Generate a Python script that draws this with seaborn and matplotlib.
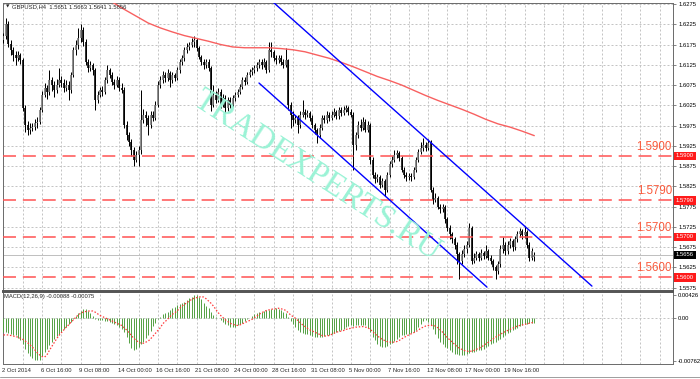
import numpy as np
import matplotlib
matplotlib.use("Agg")
import matplotlib.pyplot as plt
import matplotlib.transforms as mtransforms
import seaborn as sns

sns.set_style("white")
plt.rcParams['font.family'] = ['Liberation Sans', 'DejaVu Sans']

# ---------------- data ----------------
closes = [
    1.6196, 1.6226, 1.6177, 1.6162, 1.6149, 1.6142, 1.6149, 1.6137, 1.6019, 1.5977,
    1.5965, 1.5970, 1.5972, 1.5980, 1.5984, 1.6014, 1.6051, 1.6068, 1.6058, 1.6088,
    1.6076, 1.6063, 1.6076, 1.6088, 1.6081, 1.6068, 1.6076, 1.6063, 1.6100, 1.6162,
    1.6174, 1.6191, 1.6211, 1.6182, 1.6132, 1.6117, 1.6125, 1.6112, 1.6039, 1.6051,
    1.6063, 1.6058, 1.6088, 1.6112, 1.6100, 1.6083, 1.6076, 1.6088, 1.6068, 1.6063,
    1.5977, 1.5952, 1.5935, 1.5915, 1.5891, 1.5903, 1.5915, 1.5989, 1.6002, 1.5994,
    1.5977, 1.6002, 1.5994, 1.6026, 1.6076, 1.6088, 1.6100, 1.6093, 1.6105, 1.6088,
    1.6100, 1.6093, 1.6112, 1.6132, 1.6142, 1.6162, 1.6169, 1.6174, 1.6182, 1.6186,
    1.6167, 1.6144, 1.6132, 1.6125, 1.6132, 1.6117, 1.6026, 1.6051, 1.6039, 1.6058,
    1.6026, 1.6043, 1.6019, 1.6039, 1.6026, 1.6043, 1.6051, 1.6058, 1.6071, 1.6088,
    1.6083, 1.6100, 1.6107, 1.6112, 1.6117, 1.6125, 1.6132, 1.6125, 1.6132, 1.6112,
    1.6162, 1.6157, 1.6142, 1.6137, 1.6142, 1.6132, 1.6125, 1.6137, 1.6026, 1.6002,
    1.5989, 1.5994, 1.5977, 1.6002, 1.6009, 1.6002, 1.6007, 1.5994, 1.5977, 1.5965,
    1.5952, 1.5970, 1.5994, 1.5989, 1.6002, 1.5994, 1.6002, 1.6009, 1.5999, 1.6014,
    1.6007, 1.6014, 1.6019, 1.6009, 1.6002, 1.5928, 1.5952, 1.5977, 1.5970, 1.5984,
    1.5965, 1.5977, 1.5891, 1.5854, 1.5842, 1.5847, 1.5829, 1.5837, 1.5817, 1.5854,
    1.5879, 1.5891, 1.5903, 1.5908, 1.5896, 1.5866, 1.5854, 1.5847, 1.5851, 1.5847,
    1.5866, 1.5891, 1.5910, 1.5920, 1.5928, 1.5920, 1.5933, 1.5817, 1.5792, 1.5797,
    1.5775, 1.5768, 1.5773, 1.5743, 1.5723, 1.5706, 1.5694, 1.5681, 1.5657, 1.5640,
    1.5657, 1.5669, 1.5681, 1.5723, 1.5640, 1.5649, 1.5657, 1.5649, 1.5659, 1.5652,
    1.5664, 1.5649, 1.5640, 1.5625, 1.5615, 1.5632, 1.5669, 1.5681, 1.5664, 1.5681,
    1.5689, 1.5674, 1.5694, 1.5706, 1.5714, 1.5704, 1.5711, 1.5681, 1.5649, 1.5664,
    1.5656]
opens = [1.6186] + closes[:-2] + [1.5651]
highs = [
    1.6203, 1.6240, 1.6232, 1.6185, 1.6170, 1.6158, 1.6160, 1.6155, 1.6142, 1.6025,
    1.5985, 1.5980, 1.5982, 1.5990, 1.5995, 1.6020, 1.6060, 1.6080, 1.6075, 1.6112,
    1.6095, 1.6085, 1.6090, 1.6117, 1.6098, 1.6090, 1.6088, 1.6085, 1.6108, 1.6170,
    1.6186, 1.6216, 1.6226, 1.6218, 1.6188, 1.6140, 1.6135, 1.6130, 1.6118, 1.6060,
    1.6070, 1.6072, 1.6095, 1.6125, 1.6118, 1.6108, 1.6090, 1.6098, 1.6095, 1.6080,
    1.6070, 1.5985, 1.5960, 1.5942, 1.5922, 1.5912, 1.5925, 1.6063, 1.6015, 1.6010,
    1.6000, 1.6012, 1.6010, 1.6035, 1.6085, 1.6098, 1.6110, 1.6108, 1.6115, 1.6110,
    1.6108, 1.6105, 1.6120, 1.6140, 1.6150, 1.6170, 1.6178, 1.6182, 1.6191, 1.6196,
    1.6192, 1.6172, 1.6150, 1.6140, 1.6140, 1.6138, 1.6122, 1.6076, 1.6060, 1.6068,
    1.6065, 1.6052, 1.6050, 1.6045, 1.6046, 1.6050, 1.6058, 1.6066, 1.6078, 1.6095,
    1.6095, 1.6108, 1.6115, 1.6120, 1.6125, 1.6132, 1.6140, 1.6138, 1.6142, 1.6137,
    1.6182, 1.6182, 1.6162, 1.6150, 1.6150, 1.6148, 1.6140, 1.6167, 1.6140, 1.6032,
    1.6010, 1.6002, 1.6000, 1.6010, 1.6039, 1.6015, 1.6014, 1.6012, 1.6000, 1.5982,
    1.5970, 1.5978, 1.6002, 1.6000, 1.6010, 1.6008, 1.6012, 1.6018, 1.6014, 1.6020,
    1.6020, 1.6022, 1.6026, 1.6024, 1.6015, 1.6008, 1.5960, 1.5985, 1.5992, 1.5995,
    1.5990, 1.5985, 1.5982, 1.5898, 1.5860, 1.5855, 1.5852, 1.5845, 1.5842, 1.5860,
    1.5888, 1.5900, 1.5915, 1.5915, 1.5912, 1.5900, 1.5872, 1.5860, 1.5858, 1.5858,
    1.5872, 1.5898, 1.5918, 1.5935, 1.5945, 1.5935, 1.5942, 1.5938, 1.5822, 1.5808,
    1.5802, 1.5782, 1.5780, 1.5778, 1.5750, 1.5730, 1.5712, 1.5700, 1.5688, 1.5662,
    1.5668, 1.5680, 1.5690, 1.5735, 1.5728, 1.5660, 1.5665, 1.5662, 1.5670, 1.5665,
    1.5681, 1.5670, 1.5655, 1.5645, 1.5630, 1.5640, 1.5680, 1.5700, 1.5688, 1.5690,
    1.5698, 1.5695, 1.5702, 1.5715, 1.5722, 1.5720, 1.5728, 1.5718, 1.5688, 1.5672,
    1.5663]
lows = [
    1.6178, 1.6188, 1.6170, 1.6150, 1.6135, 1.6125, 1.6135, 1.6128, 1.6012, 1.5960,
    1.5952, 1.5955, 1.5962, 1.5965, 1.5970, 1.5978, 1.6008, 1.6045, 1.6040, 1.6050,
    1.6060, 1.6045, 1.6055, 1.6070, 1.6070, 1.6058, 1.6060, 1.6039, 1.6055, 1.6095,
    1.6150, 1.6165, 1.6180, 1.6172, 1.6125, 1.6108, 1.6110, 1.6100, 1.6014, 1.6030,
    1.6045, 1.6048, 1.6052, 1.6080, 1.6092, 1.6075, 1.6065, 1.6070, 1.6060, 1.6055,
    1.5970, 1.5940, 1.5925, 1.5900, 1.5876, 1.5885, 1.5876, 1.5905, 1.5980, 1.5975,
    1.5952, 1.5970, 1.5985, 1.5988, 1.6020, 1.6068, 1.6080, 1.6082, 1.6085, 1.6071,
    1.6080, 1.6085, 1.6088, 1.6105, 1.6125, 1.6135, 1.6155, 1.6162, 1.6168, 1.6170,
    1.6160, 1.6138, 1.6125, 1.6115, 1.6118, 1.6110, 1.6010, 1.6020, 1.6030, 1.6032,
    1.6018, 1.6020, 1.6007, 1.6012, 1.6018, 1.6020, 1.6035, 1.6045, 1.6052, 1.6065,
    1.6075, 1.6078, 1.6095, 1.6100, 1.6105, 1.6110, 1.6118, 1.6115, 1.6120, 1.6105,
    1.6108, 1.6145, 1.6135, 1.6128, 1.6130, 1.6125, 1.6118, 1.6120, 1.6014, 1.5970,
    1.5975, 1.5980, 1.5957, 1.5970, 1.5995, 1.5992, 1.5995, 1.5985, 1.5968, 1.5955,
    1.5933, 1.5945, 1.5965, 1.5980, 1.5982, 1.5985, 1.5988, 1.5995, 1.5990, 1.5992,
    1.5998, 1.6000, 1.6008, 1.6000, 1.5995, 1.5866, 1.5915, 1.5945, 1.5962, 1.5965,
    1.5958, 1.5960, 1.5880, 1.5845, 1.5832, 1.5835, 1.5820, 1.5822, 1.5800, 1.5812,
    1.5848, 1.5872, 1.5885, 1.5895, 1.5888, 1.5860, 1.5845, 1.5838, 1.5840, 1.5838,
    1.5842, 1.5860, 1.5885, 1.5905, 1.5912, 1.5912, 1.5915, 1.5810, 1.5780, 1.5785,
    1.5768, 1.5760, 1.5762, 1.5735, 1.5715, 1.5695, 1.5685, 1.5670, 1.5632, 1.5595,
    1.5632, 1.5650, 1.5660, 1.5675, 1.5632, 1.5635, 1.5642, 1.5640, 1.5644, 1.5645,
    1.5648, 1.5642, 1.5632, 1.5618, 1.5595, 1.5608, 1.5625, 1.5660, 1.5655, 1.5658,
    1.5672, 1.5665, 1.5668, 1.5688, 1.5700, 1.5695, 1.5698, 1.5672, 1.5640, 1.5642,
    1.5641]

macd_hist = [
    -0.0024, -0.0025, -0.0027, -0.0028, -0.0030, -0.0031, -0.0035, -0.0040, -0.0047, -0.0056,
    -0.0062, -0.0068, -0.0072, -0.0075, -0.0076, -0.0075, -0.0068, -0.0061, -0.0055, -0.0049,
    -0.0043, -0.0038, -0.0032, -0.0028, -0.0024, -0.0020, -0.0015, -0.0010, -0.0006, -0.0002,
    0.0004, 0.0009, 0.0013, 0.0016, 0.0016, 0.0013, 0.0009, 0.0004, -0.0001, -0.0003,
    -0.0003, -0.0004, -0.0005, -0.0005, -0.0006, -0.0008, -0.0010, -0.0013, -0.0016, -0.0019,
    -0.0025, -0.0033, -0.0045, -0.0054, -0.0058, -0.0056, -0.0052, -0.0047, -0.0042, -0.0036,
    -0.0030, -0.0023, -0.0014, -0.0008, -0.0002, 0.0003, 0.0007, 0.0009, 0.0012, 0.0015,
    0.0018, 0.0021, 0.0023, 0.0025, 0.0028, 0.0030, 0.0033, 0.0036, 0.0039, 0.0041,
    0.0041, 0.0039, 0.0034, 0.0028, 0.0022, 0.0018, 0.0011, 0.0006, 0.0003, 0.0000,
    -0.0004, -0.0007, -0.0011, -0.0013, -0.0015, -0.0015, -0.0015, -0.0013, -0.0011, -0.0008,
    -0.0005, -0.0002, 0.0001, 0.0004, 0.0007, 0.0009, 0.0011, 0.0012, 0.0013, 0.0014,
    0.0015, 0.0016, 0.0017, 0.0018, 0.0017, 0.0015, 0.0012, 0.0009, 0.0002, -0.0005,
    -0.0011, -0.0016, -0.0021, -0.0024, -0.0026, -0.0028, -0.0029, -0.0031, -0.0032, -0.0033,
    -0.0034, -0.0034, -0.0033, -0.0032, -0.0031, -0.0030, -0.0029, -0.0027, -0.0025, -0.0023,
    -0.0021, -0.0019, -0.0016, -0.0014, -0.0012, -0.0014, -0.0013, -0.0012, -0.0012, -0.0012,
    -0.0013, -0.0018, -0.0025, -0.0033, -0.0040, -0.0046, -0.0050, -0.0052, -0.0052, -0.0050,
    -0.0047, -0.0044, -0.0041, -0.0037, -0.0034, -0.0031, -0.0030, -0.0029, -0.0028, -0.0027,
    -0.0025, -0.0022, -0.0016, -0.0010, -0.0005, -0.0004, -0.0006, -0.0012, -0.0020, -0.0028,
    -0.0035, -0.0042, -0.0046, -0.0051, -0.0054, -0.0058, -0.0061, -0.0064, -0.0065, -0.0066,
    -0.0067, -0.0066, -0.0064, -0.0062, -0.0061, -0.0060, -0.0059, -0.0058, -0.0057, -0.0055,
    -0.0052, -0.0050, -0.0047, -0.0045, -0.0043, -0.0040, -0.0037, -0.0033, -0.0030, -0.0027,
    -0.0024, -0.0022, -0.0019, -0.0017, -0.0014, -0.0012, -0.0011, -0.0010, -0.0009, -0.0009,
    -0.00088]
macd_signal = [
    -0.0030, -0.0030, -0.0030, -0.0031, -0.0032, -0.0033, -0.0034, -0.0036, -0.0038, -0.0041,
    -0.0044, -0.0048, -0.0052, -0.0057, -0.0062, -0.0066, -0.0069, -0.0070, -0.0066, -0.0058,
    -0.0051, -0.0044, -0.0037, -0.0031, -0.0026, -0.0021, -0.0016, -0.0012, -0.0007, -0.0003,
    0.0002, 0.0006, 0.0009, 0.0011, 0.0012, 0.0013, 0.0013, 0.0013, 0.0011, 0.0008,
    0.0005, 0.0003, 0.0001, -0.0001, -0.0003, -0.0005, -0.0007, -0.0009, -0.0011, -0.0013,
    -0.0017, -0.0021, -0.0026, -0.0031, -0.0036, -0.0040, -0.0043, -0.0045, -0.0045, -0.0043,
    -0.0041, -0.0037, -0.0032, -0.0027, -0.0022, -0.0017, -0.0010, -0.0006, -0.0002, 0.0003,
    0.0007, 0.0010, 0.0013, 0.0018, 0.0022, 0.0025, 0.0028, 0.0031, 0.0034, 0.0036,
    0.0037, 0.0038, 0.0039, 0.0038, 0.0035, 0.0031, 0.0027, 0.0022, 0.0016, 0.0010,
    0.0005, 0.0001, -0.0003, -0.0006, -0.0009, -0.0011, -0.0012, -0.0013, -0.0012, -0.0010,
    -0.0008, -0.0006, -0.0004, -0.0002, 0.0001, 0.0004, 0.0007, 0.0010, 0.0012, 0.0014,
    0.0015, 0.0016, 0.0017, 0.0017, 0.0018, 0.0017, 0.0016, 0.0014, 0.0010, 0.0006,
    0.0003, 0.0000, -0.0004, -0.0008, -0.0012, -0.0015, -0.0018, -0.0021, -0.0023, -0.0025,
    -0.0027, -0.0029, -0.0031, -0.0032, -0.0032, -0.0031, -0.0029, -0.0027, -0.0025, -0.0024,
    -0.0023, -0.0022, -0.0020, -0.0019, -0.0018, -0.0017, -0.0016, -0.0016, -0.0015, -0.0015,
    -0.0016, -0.0017, -0.0020, -0.0024, -0.0028, -0.0032, -0.0035, -0.0038, -0.0040, -0.0042,
    -0.0043, -0.0043, -0.0043, -0.0042, -0.0040, -0.0037, -0.0035, -0.0032, -0.0030, -0.0028,
    -0.0026, -0.0024, -0.0021, -0.0018, -0.0016, -0.0014, -0.0013, -0.0013, -0.0013, -0.0014,
    -0.0017, -0.0021, -0.0025, -0.0030, -0.0035, -0.0039, -0.0043, -0.0047, -0.0051, -0.0054,
    -0.0056, -0.0058, -0.0059, -0.0060, -0.0059, -0.0058, -0.0056, -0.0054, -0.0052, -0.0049,
    -0.0046, -0.0043, -0.0040, -0.0037, -0.0034, -0.0031, -0.0029, -0.0026, -0.0024, -0.0022,
    -0.0020, -0.0018, -0.0016, -0.0014, -0.0013, -0.0012, -0.0011, -0.0010, -0.0009, -0.0008,
    -0.00075]

ma_bar = [0, 10, 20, 30, 40, 45, 50, 55, 60, 65, 70, 75, 80, 85, 90, 95, 100, 105, 110,
          115, 120, 125, 130, 135, 140, 145, 150, 155, 160, 165, 170, 175, 180, 185, 190,
          195, 200, 205, 210, 215, 220]
ma_val = [1.6340, 1.6325, 1.6310, 1.6297, 1.6287, 1.6280, 1.6262, 1.6245, 1.6228, 1.6216,
          1.6206, 1.6197, 1.6190, 1.6183, 1.6175, 1.6169, 1.6167, 1.6167, 1.6167, 1.6165,
          1.6162, 1.6157, 1.6149, 1.6141, 1.6131, 1.6120, 1.6108, 1.6096, 1.6086, 1.6075,
          1.6062, 1.6049, 1.6037, 1.6026, 1.6015, 1.6003, 1.5990, 1.5979, 1.5971, 1.5961,
          1.5950]

chan_upper_bar = [111.7, 243.9]
chan_upper_val = [1.62799, 1.55785]
chan_lower_bar = [105.9, 200.4]
chan_lower_val = [1.60799, 1.55760]

levels = [1.5900, 1.5790, 1.5700, 1.5600]
level_labels = ["1.5900", "1.5790", "1.5700", "1.5600"]
current_price = 1.5656

price_ticks = [1.6275, 1.6225, 1.6175, 1.6125, 1.6075, 1.6025, 1.5975, 1.5925,
               1.5875, 1.5825, 1.5775, 1.5725, 1.5675, 1.5625, 1.5575]
price_tick_labels = ["1.6275", "1.6225", "1.6175", "1.6125", "1.6075", "1.6025", "1.5975",
                     "1.5925", "1.5875", "1.5825", "1.5775", "1.5725", "1.5675", "1.5625",
                     "1.5575"]
macd_ticks = [0.00426, 0.0, -0.00762]
macd_tick_labels = ["0.00426", "0.00", "-0.00762"]

time_label_bars = [0, 16, 32, 48, 64, 80, 96, 112, 128, 144, 160, 176, 192, 208]
time_labels = ["2 Oct 2014", "6 Oct 16:00", "9 Oct 08:00", "14 Oct 00:00", "16 Oct 16:00",
               "21 Oct 08:00", "24 Oct 00:00", "28 Oct 16:00", "31 Oct 08:00",
               "5 Nov 00:00", "7 Nov 16:00", "12 Nov 08:00", "17 Nov 00:00", "19 Nov 16:00"]

title_text = "GBPUSD,H4  1.5651 1.5663 1.5641 1.5656"
macd_text = "MACD(12,26,9) -0.00088 -0.00075"
watermark = "TRADEXPERTS.RU"

# ---------------- figure ----------------
W, H = 700, 379
fig = plt.figure(figsize=(7.0, 3.79), dpi=100)
fig.patch.set_facecolor("white")


def fx(px):
    return px / W


def fy(py):
    return 1 - py / H


L_PX, R_PX = 2.5, 673.0
ax = fig.add_axes([fx(L_PX), fy(291), fx(R_PX) - fx(L_PX), fy(3) - fy(291)])
axm = fig.add_axes([fx(L_PX), fy(364), fx(R_PX) - fx(L_PX), fy(292) - fy(364)])

XLIM = (-0.41, 277.5)
PX = 0.72  # one pixel in points

n = len(closes)
idx = np.arange(n)
o = np.array(opens)
c = np.array(closes)
h = np.array(highs)
l = np.array(lows)

grid_kw = dict(color="#c4c4c4", lw=PX, linestyle=(0, (2, 2)), zorder=0.5)
grid_bars = np.arange(0, 280, 8)

for a in (ax, axm):
    a.set_xlim(*XLIM)
    a.set_facecolor("white")
    for g in grid_bars:
        a.axvline(g, **grid_kw)
    for s in a.spines.values():
        s.set_color("#6e6e6e")
        s.set_linewidth(PX)
        s.set_visible(True)
    a.yaxis.tick_right()
    a.tick_params(axis="y", which="both", direction="out", length=2.5, width=0.5,
                  color="#555555", labelsize=4.2, pad=1.2, labelcolor="black")

# ---- main price panel
ax.set_ylim(1.55664, 1.62775)
for t in price_ticks:
    ax.axhline(t, **grid_kw)

# watermark
fig.text(fx(317), fy(176), watermark, rotation=-33, rotation_mode="anchor",
         ha="center", va="center", fontsize=24, color="#9bf3d6",
         family=["Liberation Serif", "DejaVu Serif"], zorder=1)

# current price line
ax.axhline(current_price, color="#c0c0c0", lw=PX, zorder=1.5)

# candles
bull = c >= o
ax.vlines(idx, l, h, color="black", lw=PX, zorder=3)
body_lo = np.minimum(o, c)
body_hi = np.maximum(o, c)
ax.vlines(idx[bull], body_lo[bull], body_hi[bull], color="#767676", lw=1.6 * PX, zorder=3.1)
ax.vlines(idx[~bull], body_lo[~bull], body_hi[~bull], color="black", lw=1.6 * PX, zorder=3.1)

# moving average
sns.lineplot(x=ma_bar, y=ma_val, ax=ax, color="#f86060", lw=1.0, zorder=4, estimator=None)

# horizontal levels
for lv, lab in zip(levels, level_labels):
    ax.axhline(lv, color="#ff5252", lw=1.1, linestyle=(0, (8.5, 4.5)), zorder=4)
    ax.annotate(lab, xy=(0.9985, lv), xycoords=("axes fraction", "data"),
                xytext=(0, 4.6), textcoords="offset points", ha="right", va="baseline",
                fontsize=8.3, color="#fa5a3c", zorder=6)

# channel lines
sns.lineplot(x=chan_upper_bar, y=chan_upper_val, ax=ax, color="#0000ff", lw=1.0,
             zorder=5, estimator=None)
sns.lineplot(x=chan_lower_bar, y=chan_lower_val, ax=ax, color="#0000ff", lw=1.0,
             zorder=5, estimator=None)

ax.set_yticks(price_ticks)
ax.set_yticklabels(price_tick_labels)
ax.set_xticks([])
ax.set_xlabel("")
ax.set_ylabel("")
ax.spines["bottom"].set_linewidth(1.4)
ax.spines["bottom"].set_color("#555555")

# right-axis boxes
for lv, lab in zip(levels, level_labels):
    ax.text(1.0045, lv, lab, transform=ax.get_yaxis_transform(), ha="left", va="center",
            fontsize=4.2, color="white", zorder=10, clip_on=False,
            bbox=dict(boxstyle="square,pad=0.28", fc="#ff1a1a", ec="none"))
ax.text(1.0045, current_price, "1.5656", transform=ax.get_yaxis_transform(), ha="left",
        va="center", fontsize=4.2, color="white", zorder=10, clip_on=False,
        bbox=dict(boxstyle="square,pad=0.28", fc="black", ec="none"))

# title
fig.text(fx(6), fy(6.5), "\u25bc", fontsize=3.2, ha="left", va="center",
         family=["DejaVu Sans"])
fig.text(fx(12), fy(6.5), title_text, fontsize=4.2, ha="left", va="center")

# ---- MACD panel
axm.set_ylim(-0.00823, 0.00472)
axm.axhline(0, **grid_kw)
axm.vlines(idx, 0, macd_hist, color="#4f9e3f", lw=0.95 * PX, zorder=3)
sns.lineplot(x=idx, y=macd_signal, ax=axm, color="#ff3b3b", lw=0.9,
             linestyle=(0, (1.2, 1.4)), zorder=4, estimator=None)
axm.set_yticks(macd_ticks)
axm.set_yticklabels(macd_tick_labels)
axm.set_xlabel("")
axm.set_ylabel("")
axm.set_xticks(time_label_bars)
axm.set_xticklabels([])
axm.tick_params(axis="x", direction="out", length=2, width=0.5, color="#555555")
axm.spines["top"].set_linewidth(1.4)
axm.spines["top"].set_color("#555555")

fig.text(fx(4), fy(296.5), macd_text, fontsize=4.2, ha="left", va="center")

tr = mtransforms.blended_transform_factory(axm.transData, fig.transFigure)
for b, lab in zip(time_label_bars, time_labels):
    axm.text(b - 0.6, fy(370.5), lab, transform=tr, fontsize=4.2, ha="left",
             va="center", clip_on=False)

# bottom tab strip line
fig.add_artist(plt.Line2D([0, 1], [fy(376.5), fy(376.5)], color="#a0a0a0", lw=PX))

fig.savefig("out.png", dpi=100, facecolor="white")
